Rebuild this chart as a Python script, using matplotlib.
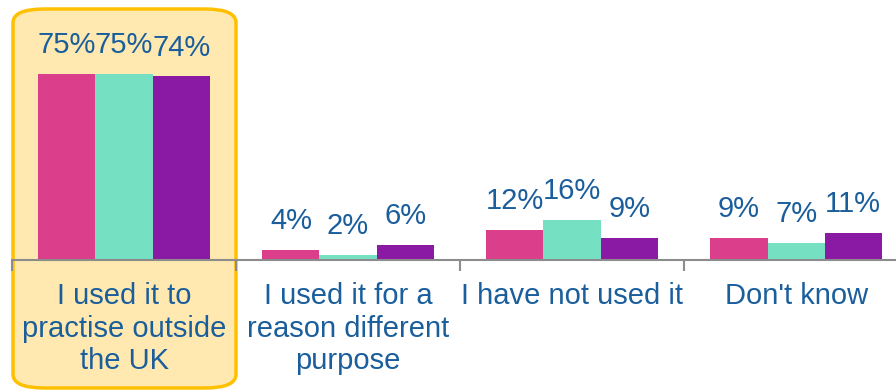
import numpy as np
import matplotlib.pyplot as plt
from matplotlib.patches import FancyBboxPatch

categories = ["I used it to\npractise outside\nthe UK", "I used it for a\nreason different\npurpose",
              "I have not used it", "Don't know"]
series_a = [75, 4, 12, 9]
series_b = [75, 2, 16, 7]
series_c = [74, 6, 9, 11]
colors = ["#DB3E8A", "#76E0C3", "#8A19A3"]
text_blue = "#1A5E9C"

plt.rcParams["font.family"] = ["Liberation Sans", "DejaVu Sans"]

fig = plt.figure(figsize=(8.96, 3.91), dpi=100)
W, H = 896, 391

# highlight box behind first group
box = FancyBboxPatch((13 / W, 1 - 388 / H), 223 / W, 379 / H,
                     boxstyle="round,pad=0,rounding_size=0.035",
                     transform=fig.transFigure, facecolor="#FFE9B0",
                     edgecolor="#FFC000", linewidth=2.5, zorder=-1)
fig.patches.append(box)

ax = fig.add_axes([12 / W, 1 - 260 / H, 884 / W, 260 / H])
ax.patch.set_alpha(0)

x = np.arange(len(categories))
bw = 0.255
for i, (vals, c) in enumerate(zip([series_a, series_b, series_c], colors)):
    xs = x + (i - 1) * bw
    ax.bar(xs, vals, width=bw, color=c, zorder=2)
    for xi, v in zip(xs, vals):
        ax.text(xi, v + 6.0, f"{v}%", ha="center", va="bottom",
                fontsize=21, color=text_blue)

ax.set_xlim(-0.5, 3.446)
ax.set_ylim(0, 104.8)
for s in ["top", "right", "left"]:
    ax.spines[s].set_visible(False)
ax.spines["bottom"].set_color("#8C8C8C")
ax.spines["bottom"].set_linewidth(1.5)
ax.set_yticks([])
ax.set_xticks([-0.5, 0.5, 1.5, 2.5])
ax.set_xticklabels([])
ax.tick_params(axis="x", length=8, width=1.5, color="#8C8C8C")

for xi, lab in zip(x, categories):
    ax.text(xi, -9.0, lab, ha="center", va="top", fontsize=21,
            color=text_blue, linespacing=1.2, clip_on=False)

fig.savefig("out.png", dpi=100)
